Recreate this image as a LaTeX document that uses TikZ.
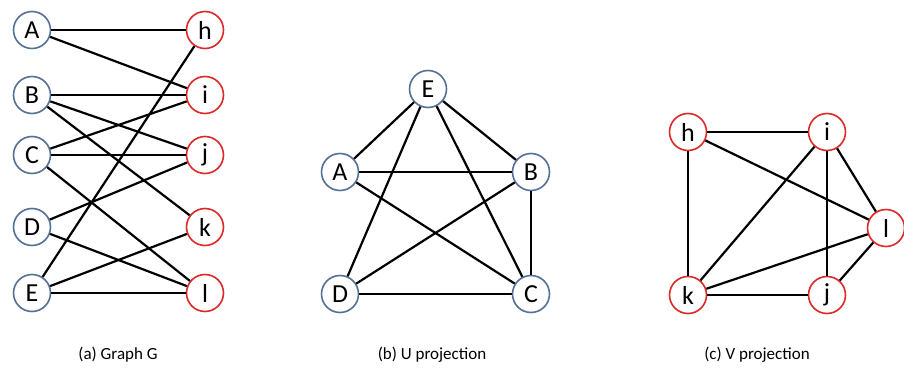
\documentclass[tikz,border=0pt]{standalone}
\usepackage{fontspec}
\setmainfont{Carlito}
\usepackage{tikz}
\usetikzlibrary{positioning}

\definecolor{uside}{RGB}{84,112,150}
\definecolor{vside}{RGB}{222,40,40}

\begin{document}
\begin{tikzpicture}[
    x=1pt, y=-1pt,
    unode/.style={draw=uside, circle, line width=1.6pt, fill=white, minimum size=37pt, inner sep=0pt, font=\fontsize{26}{26}\selectfont},
    vnode/.style={draw=vside, circle, line width=1.6pt, fill=white, minimum size=37pt, inner sep=0pt, font=\fontsize{26}{26}\selectfont},
    edge/.style={line width=2.2pt},
    caption/.style={font=\fontsize{17}{18}\selectfont}
]
\useasboundingbox (0,0) rectangle (904,369);

% (a) Graph G
\node[unode] (gA) at (32,30) {A};
\node[unode] (gB) at (32,95) {B};
\node[unode] (gC) at (32,155) {C};
\node[unode] (gD) at (32,227) {D};
\node[unode] (gE) at (32,293) {E};
\node[vnode] (gh) at (205,30) {h};
\node[vnode] (gi) at (205,95) {i};
\node[vnode] (gj) at (205,155) {j};
\node[vnode] (gk) at (205,227) {k};
\node[vnode] (gl) at (205,293) {l};
\foreach \u/\v in {A/h, A/i, B/i, B/j, B/k, C/i, C/j, C/l, D/j, D/l, E/h, E/k, E/l}
    \draw[edge] (g\u) -- (g\v);

% (b) U projection
\node[unode] (uE) at (428,89) {E};
\node[unode] (uA) at (340,172) {A};
\node[unode] (uB) at (531,172) {B};
\node[unode] (uD) at (340,294) {D};
\node[unode] (uC) at (531,294) {C};
\foreach \u/\v in {E/A, E/B, E/D, E/C, A/B, A/C, B/D, B/C, D/C}
    \draw[edge] (u\u) -- (u\v);

% (c) V projection
\node[vnode] (vh) at (688,132) {h};
\node[vnode] (vi) at (827,132) {i};
\node[vnode] (vl) at (886,228) {l};
\node[vnode] (vk) at (688,295) {k};
\node[vnode] (vj) at (827,295) {j};
\foreach \u/\v in {h/i, h/k, h/l, i/k, i/l, i/j, k/j, k/l, j/l}
    \draw[edge] (v\u) -- (v\v);

% captions
\node[caption] (capa) at (118,355) {(a) Graph G};
\node[caption] (capb) at (432,355) {(b) U projection};
\node[caption] (capc) at (757,355) {(c) V projection};
\end{tikzpicture}
\end{document}
